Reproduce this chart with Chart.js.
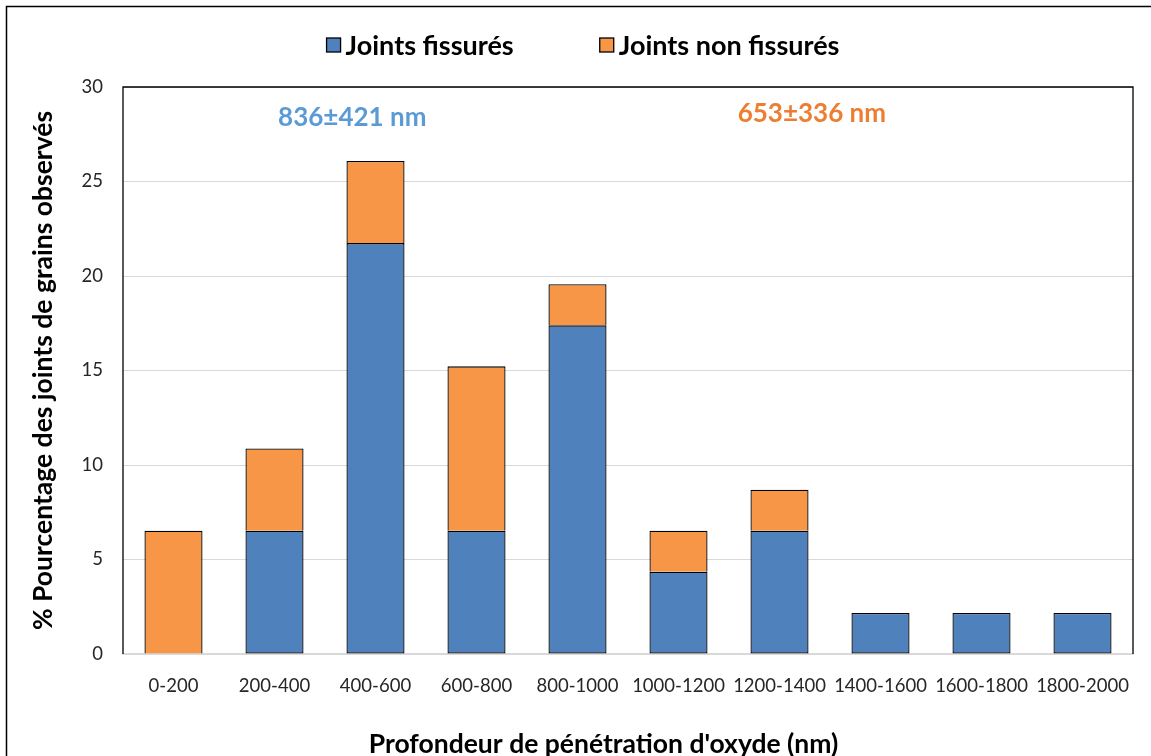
<!DOCTYPE html>
<html>
<head>
<meta charset="utf-8">
<script src="https://cdn.jsdelivr.net/npm/chart.js@4.4.1/dist/chart.umd.min.js"></script>
<style>
  html, body { margin: 0; padding: 0; background: #ffffff; }
  #wrap { width: 1151px; height: 756px; }
</style>
</head>
<body>
<div id="wrap"><canvas id="c" width="1151" height="756"></canvas></div>
<script>
const categories = ['0-200','200-400','400-600','600-800','800-1000','1000-1200','1200-1400','1400-1600','1600-1800','1800-2000'];
const seriesNames = ['Joints fissurés', 'Joints non fissurés'];
const crackedValues = [0, 6.52, 21.74, 6.52, 17.39, 4.35, 6.52, 2.17, 2.17, 2.17];
const uncrackedValues = [6.52, 4.35, 4.35, 8.70, 2.17, 2.17, 2.17, 0, 0, 0];
const yTicks = [0, 5, 10, 15, 20, 25, 30];
const annotationTexts = ['836±421 nm', '653±336 nm'];
const xAxisTitle = "Profondeur de pénétration d'oxyde (nm)";
const yAxisTitle = '% Pourcentage des joints de grains observés';

const BLUE = '#4F81BD';
const ORANGE = '#F79646';
const FONT = 'Lato, "Open Sans", "DejaVu Sans", sans-serif';
const LEFT_PAD = 28;

const framePlugin = {
  id: 'frame',
  beforeDraw(chart) {
    const ctx = chart.ctx;
    ctx.save();
    ctx.fillStyle = '#ffffff';
    ctx.fillRect(0, 0, chart.width, chart.height);
    ctx.strokeStyle = '#000000';
    ctx.lineWidth = 1.5;
    ctx.strokeRect(6.5, 6.5, chart.width + 20, chart.height + 20);
    ctx.restore();
  },
  afterDatasetsDraw(chart) {
    const ctx = chart.ctx;
    const a = chart.chartArea;
    ctx.save();
    ctx.strokeStyle = '#000000';
    ctx.lineWidth = 1.3;
    ctx.beginPath();
    ctx.moveTo(a.left, a.bottom);
    ctx.lineTo(a.left, a.top);
    ctx.lineTo(a.right, a.top);
    ctx.lineTo(a.right, a.bottom);
    ctx.stroke();
    ctx.restore();
  },
  afterDraw(chart) {
    const ctx = chart.ctx;
    const xs = chart.scales.x, ys = chart.scales.y;
    ctx.save();
    // annotations
    ctx.font = 'bold 26px ' + FONT;
    ctx.textAlign = 'center';
    ctx.textBaseline = 'middle';
    ctx.fillStyle = '#5B9BD5';
    ctx.fillText(annotationTexts[0], xs.getPixelForValue(1.77), ys.getPixelForValue(28.4));
    ctx.fillStyle = '#ED7D31';
    ctx.fillText(annotationTexts[1], xs.getPixelForValue(6.32), ys.getPixelForValue(28.6));
    // x axis title (centred on the whole figure, as in the original)
    ctx.font = 'bold 26.5px ' + FONT;
    ctx.fillStyle = '#000000';
    ctx.fillText(xAxisTitle, 603.5, 744);
    // legend
    ctx.font = 'bold 27px ' + FONT;
    ctx.textAlign = 'left';
    const box = 14, gapText = 5, gapItem = 86;
    const w1 = ctx.measureText(seriesNames[0]).width;
    const w2 = ctx.measureText(seriesNames[1]).width;
    const total = box + gapText + w1 + gapItem + box + gapText + w2;
    let x = 583 - total / 2;
    const yc = 45;
    const colors = [BLUE, ORANGE];
    [w1, w2].forEach((w, i) => {
      ctx.fillStyle = colors[i];
      ctx.fillRect(x, yc - box / 2, box, box);
      ctx.strokeStyle = '#000000';
      ctx.lineWidth = 1.3;
      ctx.strokeRect(x, yc - box / 2, box, box);
      ctx.fillStyle = '#000000';
      ctx.fillText(seriesNames[i], x + box + gapText, yc + 1);
      x += box + gapText + w + gapItem;
    });
    ctx.restore();
  }
};

new Chart(document.getElementById('c'), {
  type: 'bar',
  data: {
    labels: categories,
    datasets: [
      { label: seriesNames[0], data: crackedValues.map(v => v === 0 ? null : v), backgroundColor: BLUE, borderColor: '#000000', borderWidth: 1.3, borderSkipped: false, barPercentage: 0.575, categoryPercentage: 1 },
      { label: seriesNames[1], data: uncrackedValues.map(v => v === 0 ? null : v), backgroundColor: ORANGE, borderColor: '#000000', borderWidth: 1.3, borderSkipped: 'start', barPercentage: 0.575, categoryPercentage: 1 }
    ]
  },
  options: {
    responsive: false,
    animation: false,
    devicePixelRatio: 1,
    layout: { padding: { left: LEFT_PAD, right: 18, top: 87, bottom: 0 } },
    plugins: { legend: { display: false }, tooltip: { enabled: false } },
    scales: {
      x: {
        stacked: true,
        grid: { display: false, drawTicks: false },
        border: { display: true, color: '#d9d9d9', width: 1.5 },
        ticks: { color: '#262626', font: { family: FONT, size: 18.5 }, padding: 21, maxRotation: 0, autoSkip: false },
        title: { display: false },
        afterFit(scale) { scale.height = 756 - 654; }
      },
      y: {
        stacked: true,
        min: 0, max: 30,
        afterBuildTicks(scale) { scale.ticks = yTicks.map(v => ({ value: v })); },
        grid: { color: '#d9d9d9', lineWidth: 1, drawTicks: false },
        border: { display: false },
        ticks: { color: '#262626', font: { family: FONT, size: 18.5 }, padding: 20 },
        title: { display: true, text: yAxisTitle, color: '#000000', font: { family: FONT, size: 26.5, weight: 'bold' }, padding: { top: 0, bottom: 0 } },
        afterFit(scale) { scale.width = 123 - LEFT_PAD; }
      }
    }
  },
  plugins: [framePlugin]
});
</script>
</body>
</html>
